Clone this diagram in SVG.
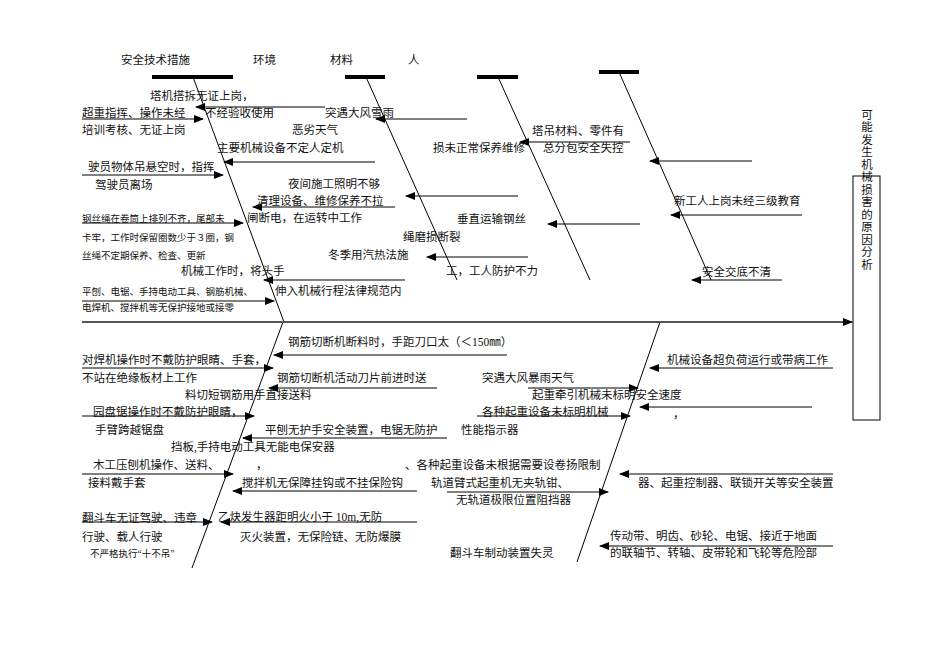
<svg xmlns="http://www.w3.org/2000/svg" width="950" height="672" viewBox="0 0 950 672">
<defs>
<marker id="ah" markerWidth="10" markerHeight="8" refX="9" refY="4" orient="auto" markerUnits="userSpaceOnUse"><path d="M0,0 L10,4 L0,8 Z" fill="#000"/></marker>
<style>
text{font-family:"Liberation Serif","Noto Sans CJK SC",serif;font-size:11.5px;fill:#111}
.s{font-size:9.5px}
.a{stroke:#000;stroke-width:1;fill:none;marker-end:url(#ah)}
.b{stroke:#000;stroke-width:1;fill:none}
.bar{stroke:#000;stroke-width:4}
</style>
</defs>
<rect width="950" height="672" fill="#fff"/>
<g id="spine">
<line class="bar" x1="152" y1="77" x2="233" y2="77"/>
<line class="bar" x1="345" y1="77" x2="385" y2="77"/>
<line class="bar" x1="477" y1="77" x2="518" y2="77"/>
<line class="bar" x1="599" y1="72" x2="639" y2="72"/>
<line class="b" x1="193" y1="77" x2="284" y2="322"/>
<line class="b" x1="366" y1="77" x2="457" y2="280"/>
<line class="b" x1="498" y1="77" x2="590" y2="280"/>
<line class="b" x1="619" y1="72" x2="711" y2="280"/>
<line class="b" x1="283" y1="322" x2="192" y2="568"/>
<line class="b" x1="660" y1="322" x2="577" y2="562"/>
<line x1="82" y1="322" x2="852" y2="322" stroke="#555" stroke-width="2" marker-end="url(#ah)"/>
</g>
<g id="effect">
<rect x="853" y="176" width="27" height="244" fill="#fff" stroke="#000"/>
<text x="866" y="190" text-anchor="middle" style="writing-mode:vertical-rl;letter-spacing:1px">可能发生机械损害的原因分析</text>
</g>
<g id="categories">
<text x="121" y="64">安全技术措施</text>
<text x="253" y="64">环境</text>
<text x="330" y="64">材料</text>
<text x="408" y="64">人</text>
</g>
<g id="connectors">
<line class="a" x1="325" y1="107" x2="196" y2="107"/>
<line class="a" x1="82" y1="119" x2="203" y2="119"/>
<line class="a" x1="467" y1="119" x2="376" y2="119"/>
<line class="a" x1="630" y1="142" x2="520" y2="142"/>
<line class="a" x1="375" y1="162" x2="224" y2="162"/>
<line class="a" x1="82" y1="175" x2="223" y2="175"/>
<line class="a" x1="752" y1="161" x2="650" y2="161"/>
<line class="a" x1="518" y1="196" x2="406" y2="196"/>
<line class="a" x1="395" y1="207" x2="253" y2="207"/>
<line class="a" x1="82" y1="223" x2="243" y2="223"/>
<line class="a" x1="802" y1="215" x2="671" y2="215"/>
<line class="a" x1="640" y1="224" x2="548" y2="224"/>
<line class="a" x1="528" y1="257" x2="427" y2="257"/>
<line class="a" x1="782" y1="280" x2="692" y2="280"/>
<line class="a" x1="405" y1="280" x2="264" y2="280"/>
<line class="a" x1="82" y1="301" x2="274" y2="301"/>
<line class="a" x1="507" y1="355" x2="274" y2="355"/>
<line class="a" x1="82" y1="368" x2="273" y2="368"/>
<line class="a" x1="833" y1="368" x2="650" y2="368"/>
<line class="a" x1="437" y1="388" x2="269" y2="388"/>
<line class="a" x1="528" y1="388" x2="638" y2="388"/>
<line class="a" x1="812" y1="407" x2="640" y2="407"/>
<line class="a" x1="82" y1="416" x2="254" y2="416"/>
<line class="a" x1="477" y1="416" x2="630" y2="416"/>
<line class="a" x1="447" y1="438" x2="243" y2="438"/>
<line class="a" x1="82" y1="474" x2="233" y2="474"/>
<line class="a" x1="833" y1="474" x2="620" y2="474"/>
<line class="a" x1="417" y1="491" x2="233" y2="491"/>
<line class="a" x1="447" y1="492" x2="608" y2="492"/>
<line class="a" x1="82" y1="522" x2="212" y2="522"/>
<line class="a" x1="417" y1="522" x2="221" y2="522"/>
<line class="a" x1="833" y1="546" x2="600" y2="546"/>
</g>
<g id="causes">
<text x="150" y="100">塔机搭拆无证上岗，</text>
<text x="82" y="117">超重指挥、操作未经</text>
<text x="205" y="117">不经验收使用</text>
<text x="325" y="117">突遇大风雪雨</text>
<text x="82" y="134">培训考核、无证上岗</text>
<text x="292" y="134">恶劣天气</text>
<text x="532" y="135">塔吊材料、零件有</text>
<text x="217" y="152">主要机械设备不定人定机</text>
<text x="433" y="152">损未正常保养维修</text>
<text x="543" y="152">总分包安全失控</text>
<text x="88" y="171">驶员物体吊悬空时，指挥</text>
<text x="95" y="189">驾驶员离场</text>
<text x="288" y="188">夜间施工照明不够</text>
<text x="674" y="205">新工人上岗未经三级教育</text>
<text x="257" y="205">清理设备、维修保养不拉</text>
<text x="82" y="222" class="s">钢丝绳在卷筒上排列不齐，尾部未</text>
<text x="247" y="222">闸断电，在运转中工作</text>
<text x="457" y="223">垂直运输钢丝</text>
<text x="82" y="241" class="s">卡牢，工作时保留圈数少于３圈，钢</text>
<text x="403" y="241">绳磨损断裂</text>
<text x="82" y="259" class="s">丝绳不定期保养、检查、更新</text>
<text x="328" y="259">冬季用汽热法施</text>
<text x="181" y="275">机械工作时，将头手</text>
<text x="446" y="275">工，工人防护不力</text>
<text x="702" y="276">安全交底不清</text>
<text x="82" y="295" class="s">平刨、电锯、手持电动工具、钢筋机械、</text>
<text x="275" y="295">伸入机械行程法律规范内</text>
<text x="82" y="311" class="s">电焊机、搅拌机等无保护接地或接零</text>
<text x="288" y="346">钢筋切断机断料时，手距刀口太（＜150㎜）</text>
<text x="82" y="364">对焊机操作时不戴防护眼睛、手套，</text>
<text x="667" y="364">机械设备超负荷运行或带病工作</text>
<text x="82" y="382">不站在绝缘板材上工作</text>
<text x="277" y="382">钢筋切断机活动刀片前进时送</text>
<text x="482" y="382">突遇大风暴雨天气</text>
<text x="185" y="399">料切短钢筋用手直接送料</text>
<text x="532" y="399">起重牵引机械未标明安全速度</text>
<text x="673" y="418">，</text>
<text x="93" y="416">园盘锯操作时不戴防护眼睛，</text>
<text x="482" y="416">各种起重设备未标明机械</text>
<text x="95" y="434">手臂跨越锯盘</text>
<text x="265" y="434">平刨无护手安全装置，电锯无防护</text>
<text x="461" y="434">性能指示器</text>
<text x="171" y="451">挡板,手持电动工具无能电保安器</text>
<text x="93" y="469">木工压刨机操作、送料、</text>
<text x="256" y="469">，</text>
<text x="405" y="469">、各种起重设备未根据需要设卷扬限制</text>
<text x="88" y="487">接料戴手套</text>
<text x="242" y="487">搅拌机无保障挂钩或不挂保险钩</text>
<text x="431" y="487">轨道臂式起重机无夹轨钳、</text>
<text x="638" y="487">器、起重控制器、联锁开关等安全装置</text>
<text x="456" y="504">无轨道极限位置阻挡器</text>
<text x="82" y="522">翻斗车无证驾驶、违章</text>
<text x="218" y="521">乙炔发生器距明火小于 10m,无防</text>
<text x="82" y="541">行驶、载人行驶</text>
<text x="240" y="541">灭火装置，无保险链、无防爆膜</text>
<text x="610" y="540">传动带、明齿、砂轮、电锯、接近于地面</text>
<text x="90" y="557" class="s">不严格执行“十不吊”</text>
<text x="450" y="557">翻斗车制动装置失灵</text>
<text x="610" y="557">的联轴节、转轴、皮带轮和飞轮等危险部</text>
</g>
</svg>
